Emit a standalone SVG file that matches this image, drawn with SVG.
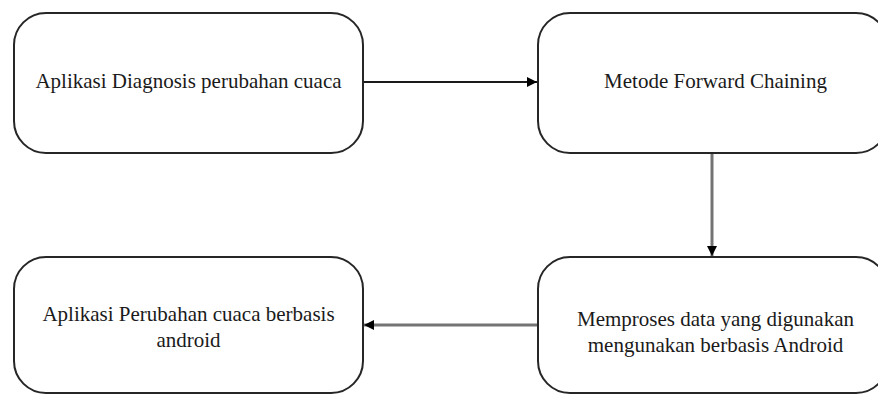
<svg xmlns="http://www.w3.org/2000/svg" width="878" height="394" viewBox="0 0 878 394">
  <style>
    .box { fill: #ffffff; stroke: #262626; stroke-width: 2; }
    .label { font-family: "Liberation Serif", "Times New Roman", serif; font-size: 21px; fill: #1a1a1a; text-anchor: middle; }
    .link { fill: none; stroke-width: 2; }
    .link-grey { stroke: #747474; stroke-width: 3; }
  </style>
  <defs>
    <marker id="arrow" viewBox="0 0 10 10" refX="10" refY="5" markerWidth="10" markerHeight="10" markerUnits="userSpaceOnUse" orient="auto">
      <path d="M0,0 L10,5 L0,10 Z" fill="#000000"/>
    </marker>
  </defs>
  <rect width="878" height="394" fill="#ffffff"/>

  <g id="connectors">
    <line class="link" x1="363" y1="82" x2="537" y2="82" stroke="#1a1a1a" marker-end="url(#arrow)"/>
    <line class="link link-grey" x1="712" y1="153" x2="712" y2="256" marker-end="url(#arrow)"/>
    <line class="link link-grey" x1="538" y1="325" x2="364" y2="325" marker-end="url(#arrow)"/>
  </g>

  <g id="node-aplikasi-diagnosis">
    <rect class="box" x="14" y="13" width="349" height="140" rx="32" ry="32"/>
    <text class="label" x="188.5" y="88">Aplikasi Diagnosis perubahan cuaca</text>
  </g>

  <g id="node-forward-chaining">
    <rect class="box" x="538" y="13" width="350" height="140" rx="32" ry="32"/>
    <text class="label" x="715.5" y="88">Metode Forward Chaining</text>
  </g>

  <g id="node-memproses-data">
    <rect class="box" x="538" y="257" width="350" height="136" rx="32" ry="32"/>
    <text class="label" x="715.5" y="326">Memproses data yang digunakan</text>
    <text class="label" x="715.5" y="352">mengunakan berbasis Android</text>
  </g>

  <g id="node-aplikasi-android">
    <rect class="box" x="14" y="257" width="349" height="136" rx="32" ry="32"/>
    <text class="label" x="188.5" y="321">Aplikasi Perubahan cuaca berbasis</text>
    <text class="label" x="188.5" y="347">android</text>
  </g>
</svg>
